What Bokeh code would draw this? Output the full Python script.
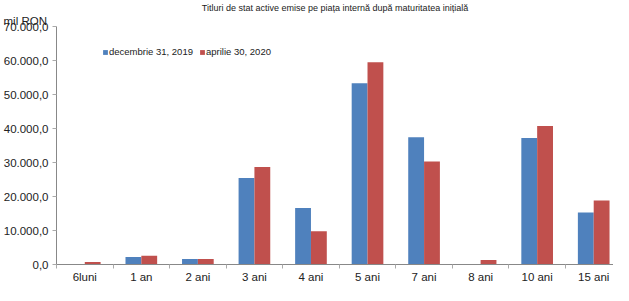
from bokeh.plotting import figure
from bokeh.models import FixedTicker, Range1d, ColumnDataSource, Legend, LegendItem, Title
from bokeh.embed import file_html
from bokeh.resources import INLINE

categories = ["6luni", "1 an", "2 ani", "3 ani", "4 ani", "5 ani", "7 ani", "8 ani", "10 ani", "15 ani"]
series_names = ["decembrie 31, 2019", "aprilie 30, 2020"]
dec_2019 = [0, 2200, 1600, 25450, 16600, 53300, 37400, 0, 37200, 15300]
apr_2020 = [700, 2600, 1650, 28650, 9800, 59500, 30300, 1300, 40700, 18800]
y_ticks = [0, 10000, 20000, 30000, 40000, 50000, 60000, 70000]
title_text = "Titluri de stat active emise pe piața internă după maturitatea inițială"
unit_text = "mil RON"

FONT = "Liberation Sans"
BLUE = "#4F81BD"
RED = "#C0504D"

centers = [i + 0.5 for i in range(len(categories))]
src = ColumnDataSource(dict(
    xb=[c - 0.14 for c in centers],
    xr=[c + 0.14 for c in centers],
    b=dec_2019, r=apr_2020))

p = figure(width=613, height=285, output_backend="svg", toolbar_location=None,
           x_range=Range1d(0, 9.85), y_range=Range1d(0, 70000),
           min_border_left=53, min_border_right=0, min_border_top=17, min_border_bottom=0)
p.outline_line_color = None
p.grid.visible = False

p.title.text = title_text
p.title.align = "center"
p.title.offset = -20
p.title.standoff = 0
p.title.text_font = FONT
p.title.text_font_size = "9px"
p.title.text_font_style = "normal"
p.title.text_color = "#222222"

rb = p.vbar(x="xb", top="b", width=0.28, source=src, fill_color=BLUE, line_color=None)
rr = p.vbar(x="xr", top="r", width=0.28, source=src, fill_color=RED, line_color=None)

def fmt(v):
    s = f"{v:,.1f}"
    return s.replace(",", "X").replace(".", ",").replace("X", ".")

ya = p.yaxis[0]
ya.ticker = FixedTicker(ticks=y_ticks, minor_ticks=[])
ya.major_label_overrides = {t: fmt(t) for t in y_ticks}
ya.major_label_text_font = FONT
ya.major_label_text_font_size = "11.5px"
ya.major_label_text_color = "#222222"
ya.axis_line_color = "#888888"
ya.major_tick_line_color = "#aaaaaa"
ya.major_tick_out = 4
ya.major_tick_in = 0
ya.major_label_standoff = 4

xa = p.xaxis[0]
xa.ticker = FixedTicker(ticks=centers, minor_ticks=list(range(len(categories) + 1)))
xa.major_label_overrides = {c: n for c, n in zip(centers, categories)}
xa.major_label_text_font = FONT
xa.major_label_text_font_size = "11.5px"
xa.major_label_text_color = "#222222"
xa.axis_line_color = "#888888"
xa.major_tick_line_color = None
xa.major_tick_out = 0
xa.major_tick_in = 0
xa.minor_tick_line_color = "#aaaaaa"
xa.minor_tick_out = 4
xa.minor_tick_in = 0
xa.major_label_standoff = 2

legend = Legend(items=[LegendItem(label=series_names[0], renderers=[rb]),
                       LegendItem(label=series_names[1], renderers=[rr])],
                orientation="horizontal", location=(46, 207),
                glyph_width=6, glyph_height=6, label_text_font=FONT,
                label_text_font_size="9.5px", label_text_color="#222222",
                label_standoff=1, spacing=6, padding=0, margin=0,
                border_line_color=None, background_fill_alpha=0, label_height=10)
p.add_layout(legend, "center")

unit_title = Title(text=unit_text, align="left", offset=-53, standoff=0,
                   text_font=FONT, text_font_size="11.5px", text_color="#222222",
                   text_font_style="normal")
p.above.insert(0, unit_title)

open("out.html", "w").write(file_html(p, INLINE))
